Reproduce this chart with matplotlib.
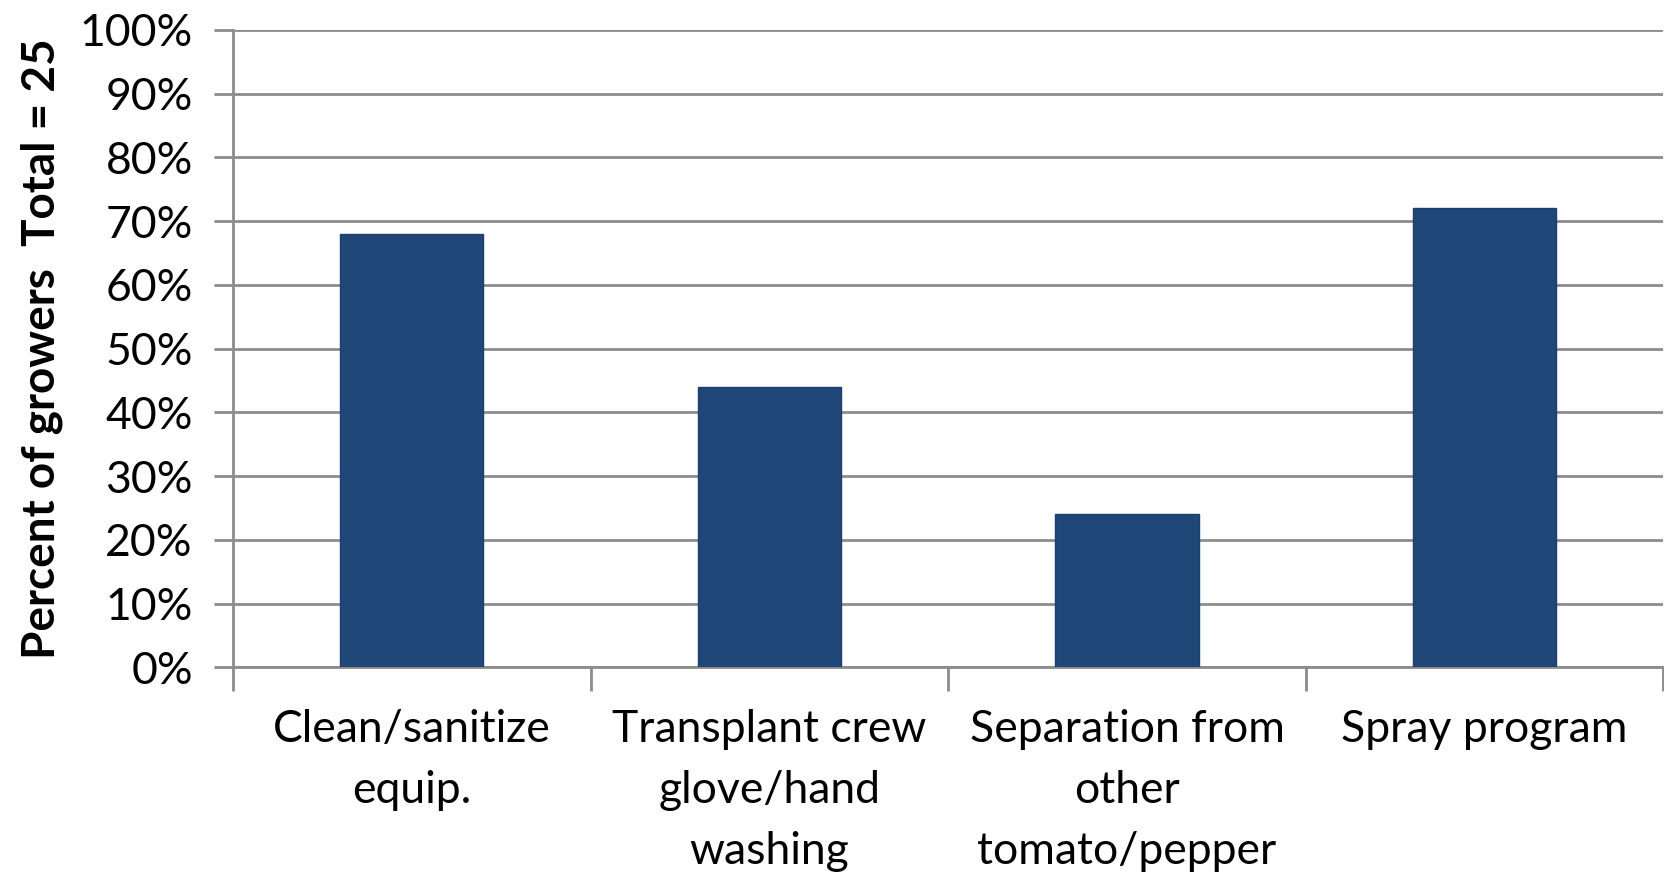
import matplotlib
matplotlib.use("Agg")
import matplotlib.pyplot as plt
import numpy as np

# survey of growers, total = 25
categories = ["Clean/sanitize\nequip.", "Transplant crew\nglove/hand\nwashing",
              "Separation from\nother\ntomato/pepper", "Spray program"]
percent = [68, 44, 24, 72]
yticks = [0, 10, 20, 30, 40, 50, 60, 70, 80, 90, 100]

plt.rcParams['font.family'] = ['Lato', 'DejaVu Sans']
grid_col = "#8c8c8c"

fig = plt.figure(figsize=(16.65, 8.77), dpi=100)
ax = fig.add_axes([0.140, 0.239, 0.859, 0.727])

x = np.arange(len(categories))
ax.bar(x, percent, width=0.4, color="#1f4778", edgecolor="#1a3f6e", linewidth=1, zorder=3)

ax.set_xlim(-0.5, len(categories) - 0.5)
ax.set_ylim(0, 100)
ax.set_yticks(yticks)
ax.set_yticklabels([f"{v}%" for v in yticks], fontsize=32)
ax.yaxis.grid(True, color=grid_col, linewidth=2, zorder=0)
ax.tick_params(axis='y', length=14, width=2, color=grid_col, pad=15)

ax.set_xticks(x)
ax.set_xticklabels(categories, fontsize=32, linespacing=1.6)
ax.tick_params(axis='x', which='major', length=0, pad=30)
ax.set_xticks(np.arange(-0.5, len(categories) + 0.5, 1), minor=True)
ax.tick_params(axis='x', which='minor', length=17, width=2, color=grid_col)

for s in ['top', 'right']:
    ax.spines[s].set_visible(False)
for s in ['left', 'bottom']:
    ax.spines[s].set_color(grid_col)
    ax.spines[s].set_linewidth(2)

ax.set_ylabel("Percent of growers  Total = 25", fontsize=33, fontweight='bold', labelpad=12)

fig.savefig("out.png", dpi=100)
